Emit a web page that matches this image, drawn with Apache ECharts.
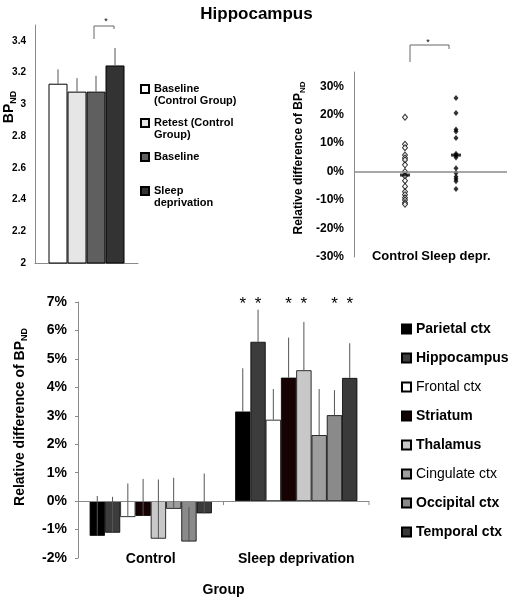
<!DOCTYPE html>
<html>
<head>
<meta charset="utf-8">
<script src="https://cdn.jsdelivr.net/npm/echarts@6/dist/echarts.min.js"></script>
<style>
  html, body { margin: 0; background: #fff; }
  #main { width: 513px; height: 600px; }
</style>
</head>
<body>
<div id="main"></div>
<script>
// top left: hippocampus BP_ND per condition
let condNames = ['Baseline\n(Control Group)', 'Retest (Control\nGroup)', 'Baseline', 'Sleep\ndeprivation'];
let bpMean = [3.13, 3.08, 3.08, 3.245];
let bpErrTop = [3.22, 3.165, 3.18, 3.355];
let condColors = ['#ffffff', '#e6e6e6', '#5f5f5f', '#333333'];

// top right: individual relative differences (%)
let controlDiff = [19.1, 9.6, 8.4, 5.8, 4.8, 4.1, 2.4, 0.0, -1.5, -3.2, -5.2, -7.1, -8.1, -9.2, -10.0, -10.9, -11.5];
let sleepDiff = [25.9, 20.6, 14.8, 14.1, 11.8, 6.3, 5.7, 5.0, 1.2, -0.5, -1.8, -2.6, -3.4, -6.1];
let medianDiff = [-1.2, 5.8];

// bottom: regional relative differences (%)
let groups = ['Control', 'Sleep deprivation'];
let regions = ['Parietal ctx', 'Hippocampus', 'Frontal ctx', 'Striatum', 'Thalamus', 'Cingulate ctx', 'Occipital ctx', 'Temporal ctx'];
let controlMean = [-1.22, -1.11, -0.56, -0.52, -1.32, -0.27, -1.42, -0.43];
let controlErrTop = [0.18, 0.15, 0.62, 0.78, 0.76, 0.82, -0.21, 0.97];
let sleepMean = [3.15, 5.6, 2.86, 4.34, 4.6, 2.32, 3.02, 4.33];
let sleepErrTop = [4.67, 6.73, 3.94, 5.75, 6.3, 3.94, 3.9, 5.55];
let sleepSignif = [1, 1, 0, 1, 1, 0, 1, 1];
let regionColors = ['#000000', '#3c3c3c', '#ffffff', '#160202', '#c8c8c8', '#9e9e9e', '#8a8a8a', '#3a3a3a'];
let regionBold = [1, 1, 0, 1, 1, 0, 1, 1];

const FONT = 'Liberation Sans, Arial, sans-serif';
const GAP_C = 0.16;
const GRAY = '#8a8a8a';

let chart = echarts.init(document.getElementById('main'));

function sub(size, subSize) {
  return {
    a: {fontFamily: FONT, fontWeight: 'bold', fontSize: size, color: '#000', lineHeight: size + 4, verticalAlign: 'middle'},
    b: {fontFamily: FONT, fontWeight: 'bold', fontSize: subSize, color: '#000', lineHeight: size + 4, verticalAlign: 'bottom'}
  };
}

// error bars for panel A (one category, 4 bars side by side)
function errA(params, api) {
  let bw = 19;
  let k = api.value(1);
  let x = api.coord([0, 0])[0] + (k - 1.5) * bw;
  let y1 = api.coord([0, api.value(2)])[1];
  let y2 = api.coord([0, api.value(3)])[1];
  return {type: 'line', shape: {x1: x, y1: y1, x2: x, y2: y2}, style: {stroke: '#555', lineWidth: 1}};
}

// error bars, stars and group ticks for panel C
function barX(api, c, k) {
  let band = api.size([1, 0])[0];
  let bw = band * (1 - GAP_C) / regions.length;
  return api.coord([c, 0])[0] + (k - (regions.length - 1) / 2) * bw;
}
function errC(params, api) {
  let c = api.value(0), k = api.value(1);
  let x = barX(api, c, k);
  let y1 = api.coord([c, api.value(2)])[1];
  let y2 = api.coord([c, api.value(3)])[1];
  return {type: 'line', shape: {x1: x, y1: y1, x2: x, y2: y2}, style: {stroke: '#555', lineWidth: 1}};
}
function starC(params, api) {
  let c = api.value(0), k = api.value(1);
  let x = barX(api, c, k);
  let y = api.coord([c, 6.93])[1];
  return {type: 'text', style: {text: '*', x: x, y: y, textAlign: 'center', textVerticalAlign: 'middle',
    fontSize: 17, fontFamily: FONT, fill: '#000'}};
}
function tickC(params, api) {
  let c = api.value(0);
  let p = api.coord([c, 0]);
  let x = p[0] + api.size([1, 0])[0] / 2;
  return {type: 'line', shape: {x1: x, y1: p[1], x2: x, y2: p[1] + 4}, style: {stroke: GRAY, lineWidth: 1}};
}

let errAData = bpMean.map((v, k) => [0, k, v, bpErrTop[k]]);
let errCData = [];
let starData = [];
regions.forEach((r, k) => {
  errCData.push([0, k, controlMean[k], controlErrTop[k]]);
  errCData.push([1, k, sleepMean[k], sleepErrTop[k]]);
  if (sleepSignif[k]) starData.push([1, k]);
});

let zeroLine = (w) => ({silent: true, symbol: 'none', label: {show: false},
  lineStyle: {color: GRAY, type: 'solid', width: w}, data: [{yAxis: 0}]});

let series = [];
condNames.forEach((n, k) => {
  series.push({
    name: n, type: 'bar', xAxisIndex: 0, yAxisIndex: 0,
    data: [bpMean[k]], barWidth: 19, barGap: '0%',
    itemStyle: {color: condColors[k], borderColor: '#000', borderWidth: 1}
  });
});
series.push({type: 'custom', xAxisIndex: 0, yAxisIndex: 0, renderItem: errA, data: errAData,
  encode: {x: 0, y: [2, 3]}, z: 5, silent: true});

series.push({type: 'scatter', name: 'ctl', xAxisIndex: 1, yAxisIndex: 1, symbol: 'diamond', symbolSize: [5, 6],
  data: controlDiff.map(v => [1, v]), itemStyle: {color: '#fff', borderColor: '#000', borderWidth: 1},
  markLine: zeroLine(1.5)});
series.push({type: 'scatter', name: 'sd', xAxisIndex: 1, yAxisIndex: 1, symbol: 'diamond', symbolSize: [5, 6],
  data: sleepDiff.map(v => [2, v]), itemStyle: {color: '#000'}});
series.push({type: 'scatter', name: 'med', xAxisIndex: 1, yAxisIndex: 1, symbol: 'rect', symbolSize: [10, 3],
  data: medianDiff.map((v, i) => [i + 1, v]), itemStyle: {color: '#000'}, z: 4});

regions.forEach((r, k) => {
  series.push({
    name: r, type: 'bar', xAxisIndex: 2, yAxisIndex: 2,
    data: [controlMean[k], sleepMean[k]], barGap: '0%', barCategoryGap: (GAP_C * 100) + '%',
    itemStyle: {color: regionColors[k], borderColor: '#000', borderWidth: 0.8},
    markLine: k === 0 ? zeroLine(1) : undefined
  });
});
series.push({type: 'custom', xAxisIndex: 2, yAxisIndex: 2, renderItem: errC, data: errCData,
  encode: {x: 0, y: [2, 3]}, z: 5, silent: true});
series.push({type: 'custom', xAxisIndex: 2, yAxisIndex: 2, renderItem: starC, data: starData,
  encode: {x: 0}, z: 5, silent: true});
series.push({type: 'custom', xAxisIndex: 2, yAxisIndex: 2, renderItem: tickC, data: groups.map((g, i) => [i]),
  encode: {x: 0}, z: 5, silent: true});

let option = {
  animation: false,
  backgroundColor: '#fff',
  textStyle: {fontFamily: FONT},
  title: {text: 'Hippocampus', left: 'center', top: 1,
    textStyle: {fontFamily: FONT, fontWeight: 'bold', fontSize: 17, color: '#000'}},
  grid: [
    {left: 35, top: 25, width: 103, height: 238, outerBoundsMode: 'none'},
    {left: 354, top: 72, width: 153, height: 185, outerBoundsMode: 'none'},
    {left: 78, top: 302, width: 291, height: 256, outerBoundsMode: 'none'}
  ],
  legend: [
    {
      orient: 'vertical', left: 140, top: 71, padding: 0, itemGap: -2, itemWidth: 8, itemHeight: 8,
      selectedMode: false, icon: 'rect',
      formatter: n => n.indexOf('\n') >= 0 ? '\n' + n : '\n' + n + '\n',
      textStyle: {fontFamily: FONT, fontWeight: 'bold', fontSize: 11, color: '#000', lineHeight: 12},
      data: condNames
    },
    {
      orient: 'vertical', left: 401, top: 321, padding: 0, itemGap: 13, itemWidth: 9, itemHeight: 9,
      selectedMode: false, icon: 'rect',
      textStyle: {fontFamily: FONT, fontWeight: 'bold', fontSize: 14, color: '#000', lineHeight: 16},
      data: regions.map((n, k) => regionBold[k] ? {name: n} : {name: n, textStyle: {fontWeight: 'normal'}})
    }
  ],
  xAxis: [
    {gridIndex: 0, type: 'category', data: [''], axisLine: {lineStyle: {color: GRAY}}, axisTick: {show: false},
      axisLabel: {show: false}},
    {gridIndex: 1, type: 'value', min: 0, max: 3, interval: 1, splitLine: {show: false},
      axisLine: {show: false, onZero: false}, axisTick: {show: false},
      axisLabel: {margin: -7, fontFamily: FONT, fontWeight: 'bold', fontSize: 13, color: '#000',
        formatter: v => v === 1 ? '{c|Control}' : (v === 2 ? '{s|Sleep depr.}' : ''),
        rich: {
          c: {fontFamily: FONT, fontWeight: 'bold', fontSize: 13, color: '#000', padding: [0, 20, 0, 0]},
          s: {fontFamily: FONT, fontWeight: 'bold', fontSize: 13, color: '#000'}
        }}},
    {gridIndex: 2, type: 'category', data: groups,
      axisLine: {show: false, onZero: false}, axisTick: {show: false},
      axisLabel: {margin: -6, interval: 0, fontFamily: FONT, fontWeight: 'bold', fontSize: 14, color: '#000'},
      name: 'Group', nameLocation: 'middle', nameGap: 25,
      nameTextStyle: {fontFamily: FONT, fontWeight: 'bold', fontSize: 14, color: '#000'}}
  ],
  yAxis: [
    {gridIndex: 0, type: 'value', min: 2, max: 3.5, interval: 0.2, splitLine: {show: false},
      axisLine: {show: true, lineStyle: {color: GRAY}}, axisTick: {show: false},
      axisLabel: {showMaxLabel: false, margin: 9, fontFamily: FONT, fontWeight: 'bold', fontSize: 10, color: '#000'},
      name: '{a|BP}{b|ND}', nameLocation: 'middle', nameGap: 17, nameMoveOverlap: false,
      nameTextStyle: {padding: [0, 0, 0, 74], rich: sub(14, 9)}},
    {gridIndex: 1, type: 'value', min: -30, max: 35, interval: 10, splitLine: {show: false},
      axisLine: {show: true, lineStyle: {color: GRAY}}, axisTick: {show: false},
      axisLabel: {showMaxLabel: false, margin: 10, formatter: '{value}%', fontFamily: FONT, fontWeight: 'bold', fontSize: 12, color: '#000'},
      name: '{a|Relative difference of BP}{b|ND}', nameLocation: 'middle', nameGap: 47,
      nameTextStyle: {padding: [0, 0, 0, 13], rich: sub(12, 8)}},
    {gridIndex: 2, type: 'value', min: -2, max: 7, interval: 1, splitLine: {show: false},
      axisLine: {show: true, lineStyle: {color: GRAY}},
      axisTick: {show: true, length: 3, lineStyle: {color: GRAY}},
      axisLabel: {margin: 11, formatter: '{value}%', fontFamily: FONT, fontWeight: 'bold', fontSize: 14, color: '#000'},
      name: '{a|Relative difference of BP}{b|ND}', nameLocation: 'middle', nameGap: 49,
      nameTextStyle: {padding: [0, 0, 0, 26], rich: sub(14, 9)}}
  ],
  // significance brackets of the two upper panels
  graphic: [
    {type: 'polyline', shape: {points: [[94, 39], [94, 26], [114, 26], [114, 29]]}, style: {stroke: '#666', lineWidth: 1, fill: null}},
    {type: 'text', x: 106, y: 22, style: {text: '*', fontSize: 9, fontFamily: FONT, fill: '#000', align: 'center', verticalAlign: 'middle'}},
    {type: 'polyline', shape: {points: [[410, 62], [410, 45], [449, 45], [449, 49]]}, style: {stroke: '#666', lineWidth: 1, fill: null}},
    {type: 'text', x: 428, y: 43, style: {text: '*', fontSize: 9, fontFamily: FONT, fill: '#000', align: 'center', verticalAlign: 'middle'}}
  ],
  series: series
};

chart.setOption(option);
</script>
</body>
</html>
